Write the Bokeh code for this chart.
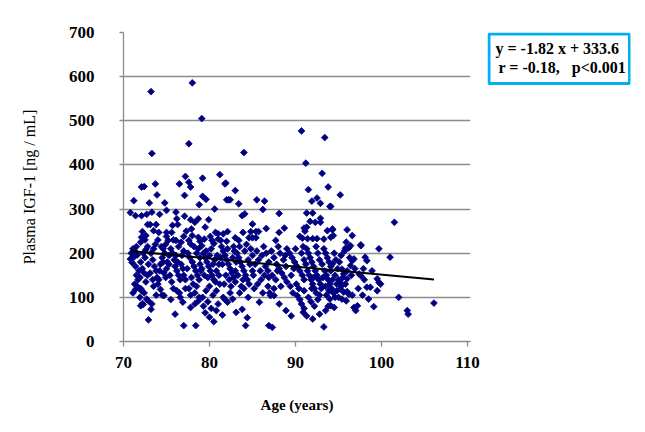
from bokeh.plotting import figure
from bokeh.models import Label, Range1d, FixedTicker
from bokeh.layouts import row
from bokeh.embed import file_html
from bokeh.resources import INLINE
import math

# Data (age in years, plasma IGF-1 in ng/mL)
age = [
    70.8, 71.2, 71.4, 72.1, 72.4, 72.1, 72.2, 72.1, 72.0, 70.8, 71.0, 71.2, 70.9, 71.1, 71.3, 71.5, 71.6, 71.4, 71.8, 71.5,
    71.7, 71.3, 71.6, 72.0, 71.9, 72.2, 72.4, 72.0, 72.3, 72.5, 72.0, 72.2, 72.3, 72.7, 72.9, 72.1, 72.4, 72.6, 72.8, 72.9,
    72.6, 72.8, 72.6, 72.8, 72.7, 73.0, 72.5, 71.1, 71.4, 71.9,
    73.2, 73.3, 73.3, 73.1, 73.8, 73.7, 73.9, 74.2, 74.8, 75.0, 73.5, 74.1, 75.0, 75.2, 75.0, 73.3, 73.2, 72.9, 74.5, 74.7,
    73.5, 74.0, 74.3, 73.2, 73.4, 73.6, 73.8, 73.9, 74.1, 74.3, 74.5, 74.6, 74.8, 75.0, 73.5, 73.7, 74.0, 74.4, 74.7, 74.9,
    73.1, 73.4, 73.8, 74.2, 74.6, 74.9, 75.1, 75.3,
    75.6, 75.7, 76.3, 76.1, 76.2, 76.5, 77.2, 77.1, 77.1, 77.0, 76.1, 76.7, 76.0, 76.9, 77.0, 76.2, 76.5, 77.2, 75.5, 75.7,
    75.9, 76.0, 76.2, 76.4, 76.6, 76.8, 77.0, 75.4, 75.6, 75.8, 76.1, 76.3, 76.7, 76.9, 75.3, 75.8, 76.4, 77.0, 76.6, 75.5,
    77.6, 78.0, 77.6, 77.8, 77.8, 78.3, 78.7, 77.9, 77.6, 77.8, 78.7, 78.9, 78.8, 78.4, 77.8, 78.3, 78.7, 77.8, 78.3, 77.5,
    77.7, 78.0, 78.2, 78.4, 78.6, 78.8, 77.4, 77.9, 78.1, 78.5, 78.7, 78.9, 78.2, 77.3, 78.0, 78.5, 78.9, 79.0, 77.2, 77.6,
    78.8,
    79.1, 79.2, 79.2, 79.6, 79.5, 79.9, 80.6, 79.1, 79.4, 80.1, 80.3, 80.5, 80.7, 81.0, 81.0, 79.3, 79.5, 79.8, 80.0, 80.2,
    80.5, 80.8, 81.0, 79.2, 79.6, 80.0, 80.4, 80.8, 79.3, 79.5, 79.7, 79.9, 80.1, 80.3, 80.5, 80.7, 80.9, 81.1, 79.4, 79.8,
    80.2, 80.6, 79.6, 80.0, 80.8, 81.1, 79.1, 80.4, 81.2,
    81.2, 81.8, 81.9, 82.0, 82.2, 82.4, 83.0, 82.1, 83.0, 81.6, 81.3, 82.0, 82.7, 82.1, 83.1, 81.5, 81.8, 82.4, 81.4, 81.6,
    81.8, 82.0, 82.2, 82.4, 82.6, 82.8, 83.0, 81.5, 81.9, 82.3, 82.7, 82.9, 83.1, 81.7, 82.5, 82.8, 81.3, 82.1, 83.0, 81.6,
    83.4, 83.8, 84.1, 84.0, 83.9, 83.4, 84.6, 85.0, 84.8, 85.0, 83.8, 84.4, 84.2, 83.5, 84.0, 84.5, 83.2, 83.4, 83.6, 83.8,
    84.0, 84.2, 84.4, 84.6, 84.8, 85.0, 83.5, 84.1, 84.7, 83.3, 83.9, 84.5, 85.0, 83.7, 84.3,
    85.4, 85.7, 85.4, 85.5, 86.4, 86.2, 86.6, 85.8, 85.2, 85.6, 86.0, 86.4, 86.8, 85.3, 85.7, 86.1, 86.5, 86.9, 85.5, 86.3,
    86.8, 87.0, 85.9, 86.6, 85.1, 86.2, 86.9,
    87.1, 87.5, 88.1, 88.9, 86.9, 87.3, 88.1, 88.7, 88.1, 87.7, 87.2, 87.5, 87.8, 88.1, 88.4, 88.7, 89.0, 87.3, 87.7, 88.2,
    88.6, 88.9, 87.5, 88.3, 89.0, 88.0, 88.8, 87.9,
    89.5, 90.2, 90.5, 90.7, 91.0, 90.9, 91.3, 90.5, 90.8, 91.0, 91.1, 91.3, 91.3, 91.2, 90.7, 89.3, 89.6, 89.9, 90.2, 90.5,
    90.8, 91.0, 89.5, 89.8, 90.1, 90.4, 90.7, 91.0, 89.4, 90.0, 89.7, 90.9, 91.0,
    91.4, 91.5, 91.9, 92.0, 92.5, 91.7, 92.3, 92.0, 92.5, 92.9, 92.9, 92.9, 92.0, 92.8, 91.5, 91.8, 92.2, 92.6, 91.3, 91.5,
    91.7, 91.9, 92.1, 92.3, 92.5, 92.7, 92.9, 91.4, 91.6, 91.8, 92.0, 92.2, 92.4, 92.6, 92.8, 91.2, 92.4, 92.8, 91.9, 92.1,
    93.1, 93.4, 93.8, 94.0, 93.3, 93.7, 94.3, 94.1, 93.3, 93.5, 93.8, 94.1, 94.5, 94.0, 93.3, 93.5, 93.7, 93.9, 94.1, 94.3,
    94.1, 93.4, 93.6, 93.8, 94.0, 94.2, 94.4, 93.2, 93.5, 93.9, 94.3, 94.6, 94.8, 94.5, 94.7, 94.9, 93.1, 94.1, 94.4, 94.3,
    94.1, 94.6, 94.8, 93.0, 93.6,
    95.2, 95.8, 96.4, 96.0, 96.6, 95.9, 96.2, 96.6, 96.8, 96.4, 95.4, 96.0, 95.6, 95.0, 95.2, 95.5, 96.0, 95.2, 95.6, 96.2,
    96.0, 95.0, 95.4, 95.9, 96.6, 96.8, 97.0, 95.1, 95.3, 95.7, 96.3, 96.9, 95.3, 95.8, 96.5,
    97.2, 97.6, 97.4, 97.6, 97.6, 98.1, 98.3, 98.9, 98.3, 98.7, 98.5, 99.1, 99.5, 99.7, 99.9, 99.5, 99.7, 101.0, 101.5, 102.0,
    103.0, 103.1, 106.1, 97.9, 98.0, 97.3, 97.8,
]
igf1 = [
    292, 319, 285, 285, 351, 350, 249, 236, 225, 187, 179, 191, 200, 210, 205, 215, 196, 170, 160, 150,
    140, 130, 125, 120, 145, 165, 155, 180, 200, 190, 81, 86, 84, 96, 92, 115, 110, 135, 150, 175,
    208, 215, 240, 265, 288, 314, 230, 110, 118, 100,
    566, 426, 293, 265, 265, 357, 332, 288, 314, 297, 251, 247, 238, 229, 247, 85, 73, 49, 105, 104,
    125, 130, 118, 200, 185, 170, 160, 145, 140, 175, 190, 210, 200, 165, 210, 220, 230, 215, 155, 145,
    155, 140, 105, 160, 180, 220, 180, 195,
    247, 263, 265, 293, 278, 357, 374, 331, 284, 238, 229, 225, 62, 89, 36, 115, 110, 120, 210, 200,
    185, 170, 160, 150, 140, 195, 205, 150, 135, 120, 195, 180, 175, 165, 175, 230, 215, 150, 100, 95,
    448, 586, 361, 350, 276, 270, 278, 255, 229, 221, 236, 227, 310, 36, 77, 85, 92, 105, 110, 200,
    190, 180, 170, 160, 150, 140, 165, 145, 130, 200, 210, 190, 215, 250, 240, 125, 175, 160, 140, 120,
    100,
    505, 370, 329, 322, 259, 276, 300, 217, 232, 238, 229, 222, 247, 244, 232, 80, 65, 90, 55, 75,
    45, 70, 85, 100, 115, 125, 105, 115, 200, 190, 180, 170, 160, 150, 140, 135, 195, 175, 150, 145,
    210, 185, 205, 195, 160, 150, 165, 175, 130,
    378, 357, 359, 321, 321, 321, 342, 249, 235, 244, 229, 227, 96, 89, 66, 60, 95, 110, 215, 205,
    195, 185, 175, 165, 155, 145, 135, 175, 150, 140, 190, 205, 180, 130, 125, 215, 190, 210, 160, 100,
    312, 285, 289, 428, 247, 229, 235, 266, 249, 235, 73, 54, 36, 110, 120, 100, 200, 190, 180, 170,
    160, 150, 140, 130, 210, 195, 215, 205, 175, 150, 140, 185, 160, 125, 220,
    249, 249, 235, 321, 318, 299, 256, 89, 120, 130, 140, 150, 160, 175, 185, 195, 170, 180, 205, 215,
    125, 110, 160, 200, 150, 110, 145,
    104, 104, 85, 70, 36, 32, 290, 257, 247, 229, 205, 190, 175, 165, 155, 145, 135, 150, 140, 200,
    185, 170, 120, 125, 210, 215, 195, 160,
    58, 104, 95, 85, 75, 66, 58, 238, 234, 257, 250, 259, 291, 404, 477, 200, 190, 180, 170, 160,
    150, 140, 150, 165, 130, 120, 200, 185, 125, 210, 110, 215, 115,
    233, 344, 318, 291, 325, 272, 270, 233, 233, 313, 279, 270, 51, 62, 100, 90, 80, 95, 210, 200,
    190, 180, 170, 160, 150, 140, 130, 160, 150, 140, 130, 120, 110, 200, 185, 175, 215, 105, 120, 145,
    381, 462, 350, 306, 232, 251, 253, 236, 33, 70, 80, 81, 77, 96, 210, 200, 190, 180, 170, 176,
    160, 160, 150, 140, 130, 120, 110, 145, 125, 115, 140, 150, 130, 200, 185, 165, 175, 119, 240, 255,
    306, 100, 115, 120, 105,
    332, 211, 217, 253, 240, 225, 212, 183, 187, 172, 164, 160, 153, 140, 134, 145, 142, 119, 112, 107,
    113, 100, 96, 92, 105, 77, 70, 180, 195, 205, 190, 165, 125, 130, 150,
    81, 217, 153, 149, 219, 191, 183, 160, 123, 123, 96, 79, 142, 134, 130, 115, 210, 191, 270, 100,
    70, 62, 87, 165, 140, 120, 105,
]

x_ticks = [70, 80, 90, 100, 110]
y_ticks = [0, 100, 200, 300, 400, 500, 600, 700]
slope = -1.82
intercept = 333.6
stats_line1 = "y = -1.82 x + 333.6"
stats_line2 = "r = -0.18,\u00a0\u00a0\u00a0p<0.001"

SERIF = "Liberation Serif"
GRID = "#8c8c8c"

p = figure(width=487, height=432, output_backend="svg", toolbar_location=None,
           x_range=Range1d(70, 110.35), y_range=Range1d(0, 700),
           min_border_left=123, min_border_right=17, min_border_top=32, min_border_bottom=91)
p.outline_line_color = None
p.background_fill_color = "white"
p.border_fill_color = "white"

p.xgrid.grid_line_color = None
p.ygrid.grid_line_color = GRID
p.ygrid.grid_line_width = 1.3

p.xaxis.ticker = FixedTicker(ticks=x_ticks)
p.yaxis.ticker = FixedTicker(ticks=y_ticks)
p.xaxis.minor_tick_line_color = None
p.yaxis.minor_tick_line_color = None
for ax in (p.xaxis, p.yaxis):
    ax.axis_line_color = GRID
    ax.axis_line_width = 1.3
    ax.major_tick_line_color = GRID
    ax.major_tick_line_width = 1.3
    ax.major_tick_in = 0
    ax.major_label_text_font = SERIF
    ax.major_label_text_font_style = "bold"
    ax.major_label_text_font_size = "17px"
    ax.major_label_text_color = "black"
    ax.axis_label_text_font = SERIF
    ax.axis_label_text_color = "black"

p.xaxis.major_tick_out = 5
p.yaxis.major_tick_out = 4
p.yaxis.major_label_standoff = 25
p.xaxis.major_label_standoff = 10

p.xaxis.axis_label = "Age (years)"
p.xaxis.axis_label_text_font_style = "bold"
p.xaxis.axis_label_text_font_size = "15px"
p.xaxis.axis_label_standoff = 26

p.yaxis.axis_label = "Plasma IGF-1 [ng / mL]"
p.yaxis.axis_label_text_font_style = "normal"
p.yaxis.axis_label_text_font_size = "16px"
p.yaxis.axis_label_standoff = 28

p.scatter(age, igf1, marker="square", angle=math.pi / 4, size=4.8,
          fill_color="#000080", line_color="#000080", line_width=0.8)

x0, x1 = min(age), max(age)
p.line([x0, x1], [slope * x0 + intercept, slope * x1 + intercept], line_color="black", line_width=2)

# Statistics box: companion figure (frame aligned with the main one, 1 unit = 1 px)
box = figure(width=158, height=432, output_backend="svg", toolbar_location=None,
             x_range=Range1d(0, 143), y_range=Range1d(0, 309),
             min_border_left=0, min_border_right=15, min_border_top=32, min_border_bottom=91)
box.xaxis.visible = False
box.yaxis.visible = False
box.xgrid.grid_line_color = None
box.ygrid.grid_line_color = None
box.outline_line_color = None
box.background_fill_color = "white"
box.border_fill_color = "white"
box.quad(left=[1.5], right=[142], top=[307.5], bottom=[258], fill_color="white",
         line_color="#00b0f0", line_width=3)
box.add_layout(Label(x=8, y=293, text=stats_line1, text_font=SERIF, text_font_style="bold",
                     text_font_size="16px", text_color="black", text_align="left", text_baseline="middle"))
box.add_layout(Label(x=11, y=274, text=stats_line2, text_font=SERIF, text_font_style="bold",
                     text_font_size="16px", text_color="black", text_align="left", text_baseline="middle"))

layout = row(p, box)
open("out.html", "w").write(file_html(layout, INLINE))
